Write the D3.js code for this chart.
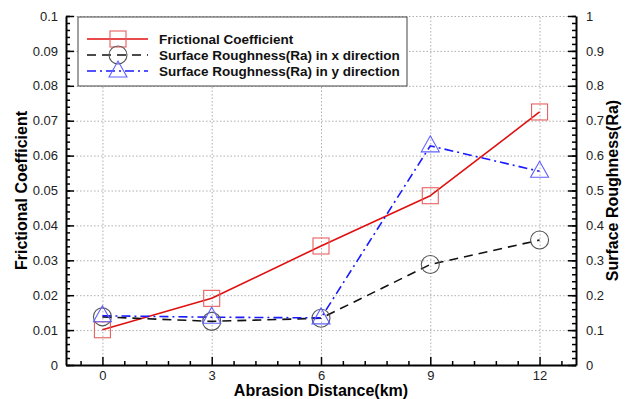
<!DOCTYPE html>
<html>
<head>
<meta charset="utf-8">
<script src="https://cdn.jsdelivr.net/npm/d3@7"></script>
<style>
  body { margin: 0; background: #fff; }
  svg { font-family: "Liberation Sans", Arial, sans-serif; }
  .axis path { stroke: #000; stroke-width: 2; }
  .axis line { stroke: #000; stroke-width: 1.5; }
  .axis text { font-size: 13px; fill: #222; }
  .grid line { stroke: #999; stroke-width: 0.8; stroke-dasharray: 1.5,2; }
  .grid path { display: none; }
</style>
</head>
<body>
<div id="chart"></div>
<script>
// Chart data
const distance = [0, 3, 6, 9, 12];
const frictional = [0.0101, 0.0191, 0.0341, 0.0485, 0.0725];
const raX = [0.138, 0.125, 0.134, 0.288, 0.358];
const raY = [0.141, 0.137, 0.135, 0.628, 0.555];

const xTicks = [0, 3, 6, 9, 12];
const leftTicks = d3.range(0, 0.1001, 0.01);
const rightTicks = d3.range(0, 1.001, 0.1);

const seriesNames = [
  "Frictional Coefficient",
  "Surface Roughness(Ra) in x direction",
  "Surface Roughness(Ra) in y direction"
];

const width = 630, height = 399;
const margin = { top: 16, right: 54, bottom: 34, left: 66 };
const w = width - margin.left - margin.right;
const h = height - margin.top - margin.bottom;

const svg = d3.select("#chart").append("svg")
  .attr("width", width)
  .attr("height", height);

const g = svg.append("g")
  .attr("transform", `translate(${margin.left},${margin.top})`);

// Scales
const x = d3.scaleLinear().domain([-1, 13]).range([0, w]);
const yL = d3.scaleLinear().domain([0, 0.1]).range([h, 0]);
const yR = d3.scaleLinear().domain([0, 1]).range([h, 0]);

// Dotted grid
g.append("g").attr("class", "grid")
  .attr("transform", `translate(0,${h})`)
  .call(d3.axisBottom(x).tickValues(xTicks).tickSize(-h).tickFormat(""));
g.append("g").attr("class", "grid")
  .call(d3.axisLeft(yL).tickValues(leftTicks.slice(1)).tickSize(-w).tickFormat(""));

// Minor ticks
const xMinor = d3.range(-0.6, 12.7, 0.6).filter(v => !xTicks.some(t => Math.abs(t - v) < 1e-6));
const lMinor = d3.range(0, 0.1001, 0.002);
const rMinor = d3.range(0, 1.001, 0.02);

g.append("g").attr("class", "axis")
  .attr("transform", `translate(0,${h})`)
  .call(d3.axisBottom(x).tickValues(xMinor).tickSize(-4).tickFormat(""))
  .call(s => s.select(".domain").remove());
g.append("g").attr("class", "axis")
  .call(d3.axisLeft(yL).tickValues(lMinor).tickSize(-4).tickFormat(""))
  .call(s => s.select(".domain").remove());
g.append("g").attr("class", "axis")
  .attr("transform", `translate(${w},0)`)
  .call(d3.axisRight(yR).tickValues(rMinor).tickSize(-4).tickFormat(""))
  .call(s => s.select(".domain").remove());

// Major axes
g.append("g").attr("class", "axis")
  .attr("transform", `translate(0,${h})`)
  .call(d3.axisBottom(x).tickValues(xTicks).tickSize(-8).tickSizeOuter(0).tickPadding(6));
g.append("g").attr("class", "axis")
  .call(d3.axisLeft(yL).tickValues(leftTicks).tickSize(-8).tickSizeOuter(0).tickPadding(8)
    .tickFormat(d => d3.format("~g")(+d.toFixed(3))));
g.append("g").attr("class", "axis")
  .attr("transform", `translate(${w},0)`)
  .call(d3.axisRight(yR).tickValues(rightTicks).tickSize(-8).tickSizeOuter(0).tickPadding(10)
    .tickFormat(d => d3.format("~g")(+d.toFixed(2))));

// Lines
const redLine = d3.line().x((d, i) => x(distance[i])).y(d => yL(d));
const rightLine = d3.line().x((d, i) => x(distance[i])).y(d => yR(d));

g.append("path").datum(frictional)
  .attr("d", redLine).attr("fill", "none")
  .attr("stroke", "#e01010").attr("stroke-width", 1.6).attr("stroke-linejoin", "round");
g.append("path").datum(raX)
  .attr("d", rightLine).attr("fill", "none")
  .attr("stroke", "#111").attr("stroke-width", 1.6).attr("stroke-dasharray", "9,6");
g.append("path").datum(raY)
  .attr("d", rightLine).attr("fill", "none")
  .attr("stroke", "#1a1aff").attr("stroke-width", 1.6).attr("stroke-dasharray", "9,4,2,4");

// Markers
function square(sel, cx, cy) {
  sel.append("rect").attr("x", cx - 8).attr("y", cy - 8).attr("width", 16).attr("height", 16)
    .attr("fill", "none").attr("stroke", "#e86060").attr("stroke-width", 1.1);
}
function circle(sel, cx, cy) {
  sel.append("circle").attr("cx", cx).attr("cy", cy).attr("r", 9)
    .attr("fill", "none").attr("stroke", "#555").attr("stroke-width", 1.1);
}
function triangle(sel, cx, cy) {
  sel.append("path")
    .attr("d", `M${cx},${cy - 10}L${cx + 9},${cy + 6}L${cx - 9},${cy + 6}Z`)
    .attr("fill", "none").attr("stroke", "#6060ff").attr("stroke-width", 1.1);
}

distance.forEach((d, i) => {
  square(g, x(d), yL(frictional[i]));
  circle(g, x(d), yR(raX[i]));
  triangle(g, x(d), yR(raY[i]));
});

// Legend
const legend = g.append("g").attr("transform", "translate(12,1)");
legend.append("rect").attr("width", 329).attr("height", 69)
  .attr("fill", "#fff").attr("stroke", "#444").attr("stroke-width", 1);
const rowY = [22, 38, 54];
const styles = [
  { stroke: "#e01010", dash: null, mark: square },
  { stroke: "#111", dash: "9,6", mark: circle },
  { stroke: "#1a1aff", dash: "9,4,2,4", mark: triangle }
];
seriesNames.forEach((name, i) => {
  const yy = rowY[i];
  legend.append("line").attr("x1", 9).attr("x2", 70).attr("y1", yy).attr("y2", yy)
    .attr("stroke", styles[i].stroke).attr("stroke-width", 1.6)
    .attr("stroke-dasharray", styles[i].dash);
  styles[i].mark(legend, 40, yy);
  legend.append("text").attr("x", 81).attr("y", yy + 5)
    .attr("font-size", "13.5px").attr("font-weight", "bold").attr("fill", "#111")
    .text(name);
});

// Axis titles
svg.append("text")
  .attr("x", margin.left + w / 2).attr("y", 396)
  .attr("text-anchor", "middle").attr("font-size", "16px").attr("font-weight", "bold")
  .text("Abrasion Distance(km)");
svg.append("text")
  .attr("transform", `translate(27,${margin.top + h / 2}) rotate(-90)`)
  .attr("text-anchor", "middle").attr("font-size", "16px").attr("font-weight", "bold")
  .text("Frictional Coefficient");
svg.append("text")
  .attr("transform", `translate(618,${margin.top + h / 2}) rotate(-90)`)
  .attr("text-anchor", "middle").attr("font-size", "16px").attr("font-weight", "bold")
  .text("Surface Roughness(Ra)");
</script>
</body>
</html>
